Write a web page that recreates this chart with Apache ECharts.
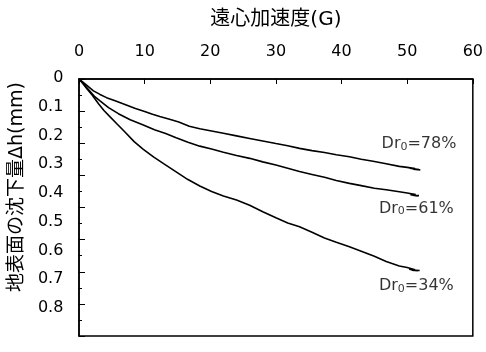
<!DOCTYPE html>
<html>
<head>
<meta charset="utf-8">
<script src="https://cdn.jsdelivr.net/npm/echarts@6/dist/echarts.min.js"></script>
<style>
  html, body { margin: 0; padding: 0; background: #fff; }
  #chart { width: 486px; height: 352px; }
</style>
</head>
<body>
<div id="chart"></div>
<script>
// Centrifugal acceleration (G) vs. ground-surface settlement (mm)
const xTicks = [0, 10, 20, 30, 40, 50, 60];
const yTicks = [0, 0.1, 0.2, 0.3, 0.4, 0.5, 0.6, 0.7, 0.8];

const dr78 = [[0,0],[0.6,0.010],[1.2,0.020],[2.2,0.037],[3.2,0.048],[4.2,0.058],[5.5,0.068],[7.2,0.081],[8.6,0.092],[10,0.101],[11.2,0.110],[12.3,0.117],[13.8,0.125],[15.2,0.134],[16.8,0.147],[18.4,0.155],[20,0.161],[22,0.169],[24,0.177],[26,0.185],[28,0.193],[30,0.201],[31.8,0.208],[33.6,0.216],[35.5,0.223],[37.4,0.229],[39.2,0.236],[41.2,0.242],[43,0.250],[44.8,0.256],[46.6,0.263],[48.8,0.272],[50,0.275],[51.2,0.279],[50.4,0.278],[51.8,0.282],[50.9,0.281],[52,0.283]];

const dr61 = [[0,0],[0.6,0.013],[1.5,0.034],[2.4,0.055],[3.2,0.068],[4.5,0.089],[6,0.108],[7.8,0.127],[9.8,0.143],[11.5,0.158],[13.2,0.170],[14.8,0.183],[16.6,0.197],[18.4,0.209],[20.2,0.218],[22,0.228],[24,0.238],[26,0.247],[28,0.258],[30,0.268],[31.8,0.278],[33.6,0.288],[35.5,0.297],[37.4,0.306],[39.2,0.316],[41.2,0.325],[43,0.332],[45,0.340],[46.8,0.345],[48.8,0.351],[50,0.355],[51.3,0.360],[50.5,0.360],[51.6,0.364],[50.8,0.362],[51.8,0.363]];

const dr34 = [[0,0],[0.5,0.012],[1.2,0.030],[2,0.050],[3,0.078],[3.8,0.098],[4.7,0.117],[5.8,0.140],[7,0.165],[8.4,0.195],[9.8,0.219],[11.4,0.243],[13,0.265],[14.8,0.289],[16.6,0.313],[18.4,0.333],[20.2,0.350],[22,0.364],[24,0.377],[26,0.393],[28,0.413],[30,0.432],[31.8,0.448],[33.6,0.460],[35.5,0.477],[37.4,0.495],[39.2,0.508],[41.2,0.522],[43,0.536],[45,0.552],[46.8,0.568],[48.8,0.582],[50,0.587],[51.2,0.594],[50.3,0.592],[51.6,0.597],[50.7,0.595],[51.9,0.596]];

// curve labels: [G, settlement, density]
const curveLabels = [[51.8, 0.203, '78%'], [51.4, 0.405, '61%'], [51.4, 0.645, '34%']];

const FONT = '"DejaVu Sans", "Noto Sans CJK JP", sans-serif';
const chart = echarts.init(document.getElementById('chart'));

function curve(data) {
  return {
    type: 'line', data: data, xAxisIndex: 0, yAxisIndex: 0,
    showSymbol: false, symbol: 'none', smooth: false,
    lineStyle: { color: '#000', width: 1.6 }, animation: false
  };
}

chart.setOption({
  animation: false,
  grid: [
    { left: 79, right: 12, top: 79, bottom: 16, show: true, borderColor: '#000', borderWidth: 1.5, backgroundColor: 'transparent' },
    { left: 79, right: 12, top: 78, bottom: 44, show: false }
  ],
  xAxis: [
    {
      gridIndex: 0, type: 'value', position: 'top', min: 0, max: 60, interval: 10,
      name: '遠心加速度(G)', nameLocation: 'middle', nameGap: 49,
      nameTextStyle: { fontFamily: FONT, fontSize: 20, color: '#000' },
      axisLine: { show: true, lineStyle: { color: '#000', width: 1.5 } },
      axisTick: { show: true, inside: true, length: 5, lineStyle: { color: '#000' } },
      axisLabel: { margin: 19, fontFamily: FONT, fontSize: 16, color: '#000' },
      splitLine: { show: false }
    },
    { gridIndex: 1, type: 'value', min: 0, max: 60, show: false }
  ],
  yAxis: [
    {
      gridIndex: 0, type: 'value', inverse: true, min: 0, max: 0.8, interval: 0.1,
      axisLine: { show: true, lineStyle: { color: '#000', width: 1.5 } },
      axisTick: { show: true, inside: true, length: 6, lineStyle: { color: '#000' } },
      minorTick: { show: true, splitNumber: 2, length: 3, lineStyle: { color: '#000' } },
      axisLabel: { show: false },
      splitLine: { show: false }
    },
    {
      gridIndex: 1, type: 'value', inverse: true, min: 0, max: 0.8, interval: 0.1,
      name: '地表面の沈下量Δh(mm)', nameLocation: 'middle', nameGap: 51,
      nameTextStyle: { fontFamily: FONT, fontSize: 19, color: '#000', padding: [0, 0, 0, 12] },
      axisLine: { show: false }, axisTick: { show: false }, splitLine: { show: false },
      axisLabel: {
        margin: 19, fontFamily: FONT, fontSize: 16, color: '#000',
        formatter: v => (v === 0 ? '0' : v.toFixed(1))
      }
    }
  ],
  series: [
    curve(dr78), curve(dr61), curve(dr34),
    {
      type: 'scatter', xAxisIndex: 0, yAxisIndex: 0, symbolSize: 0,
      data: curveLabels.map(d => [d[0], d[1], d[2]]),
      label: {
        show: true, position: 'inside', color: '#000',
        fontFamily: FONT, fontSize: 16,
        formatter: p => 'Dr{sub|0}=' + p.data[2],
        rich: { sub: { fontSize: 11, fontFamily: FONT, color: '#000', padding: [5, 0, 0, 0] } }
      }
    }
  ]
});
</script>
</body>
</html>
